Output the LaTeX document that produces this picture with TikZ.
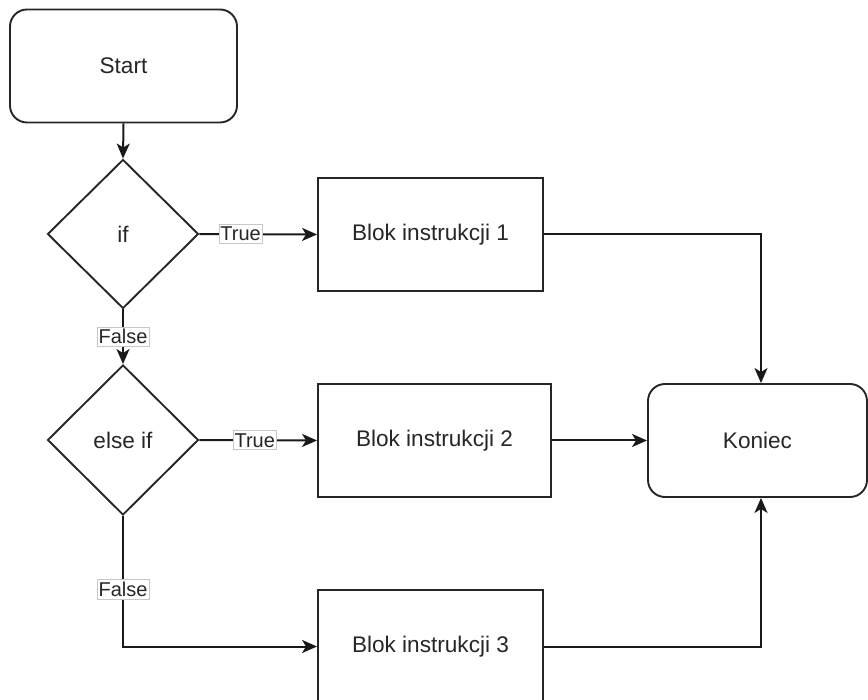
\documentclass[tikz,border=0pt]{standalone}
\usepackage{fontspec}
\setmainfont{Liberation Sans}
\usetikzlibrary{shapes.geometric,arrows.meta}
\tikzset{
  base/.style={draw=black!85, line width=1.9pt, font=\fontsize{22.6}{27}\selectfont, text=black!85, inner sep=0pt},
  term/.style={base, rectangle, rounded corners=17pt, minimum height=113pt},
  blok/.style={base, rectangle, minimum height=113pt},
  dec/.style={base, diamond, minimum width=151pt, minimum height=149pt},
  conn/.style={draw=black!90, line width=2pt, -{Stealth[length=15pt,width=13pt,inset=4pt]}},
  lbl/.style={fill=white, draw=black!22, line width=0.8pt, font=\fontsize{20}{24}\selectfont, text=black!85, inner xsep=1.5pt, inner ysep=2.5pt}
}
\begin{document}
\begin{tikzpicture}[x=1pt,y=-1pt]
\useasboundingbox (0,0) rectangle (868,700);
\clip (0,0) rectangle (868,700);
\node[term, minimum width=227pt] (start) at (123.5,66) {Start};
\node[dec] (if) at (123,234) {if};
\node[dec, minimum height=150pt] (elif) at (123,440) {else if};
\node[blok, minimum width=225pt] (b1) at (430.5,234.5) {Blok instrukcji 1};
\node[blok, minimum width=233pt] (b2) at (434.5,440.5) {Blok instrukcji 2};
\node[blok, minimum width=225pt] (b3) at (430.5,646.5) {Blok instrukcji 3};
\node[term, minimum width=219pt] (kon) at (757.5,440.5) {Koniec};

\draw[conn] (start.south) -- (if.north);
\draw[conn] (if.east) -- node[lbl, pos=0.35] {True} (b1.west);
\draw[conn] (if.south) -- node[lbl, pos=0.5] {False} (elif.north);
\draw[conn] (elif.east) -- node[lbl, pos=0.47] {True} (b2.west);
\draw[conn] (elif.south) |- node[lbl, pos=0.28] {False} (b3.west);
\draw[conn] (b1.east) -| ([xshift=3.5pt]kon.north);
\draw[conn] (b2.east) -- (kon.west);
\draw[conn] (b3.east) -| ([xshift=3.5pt]kon.south);
\end{tikzpicture}
\end{document}
